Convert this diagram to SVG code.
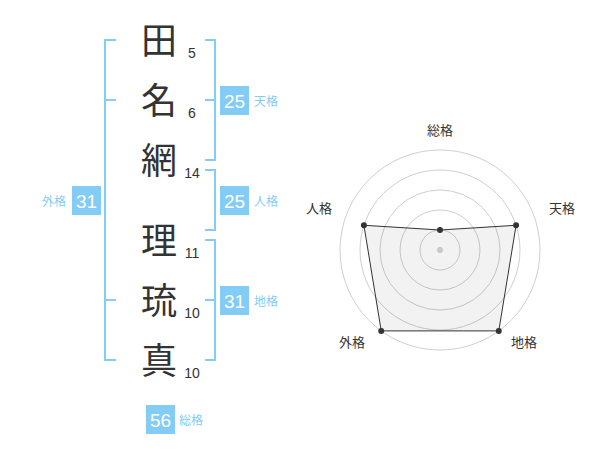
<svg xmlns="http://www.w3.org/2000/svg" width="600" height="470" viewBox="0 0 600 470">
<style>
.ch{font-family:"Noto Sans CJK JP","Noto Sans CJK SC",sans-serif;font-size:36px;fill:#333;text-anchor:middle}
.st{font-family:"Liberation Sans",Arial,sans-serif;font-size:14px;fill:#333;text-anchor:middle}
.br{fill:none;stroke:#82ccf5;stroke-width:2}
.bx{fill:#82ccf5}
.bn{font-family:"Liberation Sans",Arial,sans-serif;font-size:19px;fill:#fff;text-anchor:middle}
.bl{font-family:"Noto Sans CJK JP",sans-serif;font-size:12px;fill:#82ccf5}
.ring{fill:none;stroke:#cfcfcf;stroke-width:1}
.rl{font-family:"Noto Sans CJK JP",sans-serif;font-size:13px;fill:#333;text-anchor:middle}
.dot{fill:#333}
</style>
<rect width="600" height="470" fill="#fff"/>
<g id="chars">
<text class="ch" x="159" y="54">田</text>
<text class="ch" x="159" y="114">名</text>
<text class="ch" x="159" y="174">網</text>
<text class="ch" x="159" y="254">理</text>
<text class="ch" x="159" y="314">琉</text>
<text class="ch" x="159" y="374">真</text>
<text class="st" x="192" y="58">5</text>
<text class="st" x="192" y="118">6</text>
<text class="st" x="192" y="178">14</text>
<text class="st" x="192" y="258">11</text>
<text class="st" x="192" y="318">10</text>
<text class="st" x="192" y="378">10</text>
</g>
<g id="connectors">
<path class="br" d="M116,40 H105 V360 H116 M105,100 H116 M105,300 H116"/>
<path class="br" d="M205,40 H215 V160 H205 M205,100 H215"/>
<path class="br" d="M205,170 H215 V230 H205"/>
<path class="br" d="M205,240 H215 V360 H205 M205,300 H215"/>
</g>
<g id="tenkaku">
<rect class="bx" x="220" y="86" width="29" height="29"/>
<text class="bn" x="234.5" y="107.5">25</text>
<text class="bl" x="254" y="106">天格</text>
</g>
<g id="jinkaku">
<rect class="bx" x="220" y="186" width="29" height="29"/>
<text class="bn" x="234.5" y="207.5">25</text>
<text class="bl" x="254" y="206">人格</text>
</g>
<g id="chikaku">
<rect class="bx" x="220" y="286" width="29" height="29"/>
<text class="bn" x="234.5" y="307.5">31</text>
<text class="bl" x="254" y="306">地格</text>
</g>
<g id="gaikaku">
<rect class="bx" x="72" y="186" width="29" height="29"/>
<text class="bn" x="86.5" y="207.5">31</text>
<text class="bl" x="42" y="206">外格</text>
</g>
<g id="soukaku">
<rect class="bx" x="146" y="405" width="29" height="29"/>
<text class="bn" x="160.5" y="426.5">56</text>
<text class="bl" x="179" y="425">総格</text>
</g>
<g id="radar">
<circle class="ring" cx="440" cy="250" r="20"/>
<circle class="ring" cx="440" cy="250" r="40"/>
<circle class="ring" cx="440" cy="250" r="60"/>
<circle class="ring" cx="440" cy="250" r="80"/>
<circle class="ring" cx="440" cy="250" r="100"/>
<polygon points="440,230 516.08,225.28 498.78,330.9 381.22,330.9 363.92,225.28" fill="#000" fill-opacity="0.05" stroke="#333" stroke-width="1"/>
<circle cx="440" cy="250" r="3" fill="#c8c8c8"/>
<circle class="dot" cx="440" cy="230" r="3"/>
<circle class="dot" cx="516.08" cy="225.28" r="3"/>
<circle class="dot" cx="498.78" cy="330.9" r="3"/>
<circle class="dot" cx="381.22" cy="330.9" r="3"/>
<circle class="dot" cx="363.92" cy="225.28" r="3"/>
<text class="rl" x="440" y="135">総格</text>
<text class="rl" x="562" y="213">天格</text>
<text class="rl" x="319" y="213">人格</text>
<text class="rl" x="352" y="347">外格</text>
<text class="rl" x="524" y="347">地格</text>
</g>
</svg>
